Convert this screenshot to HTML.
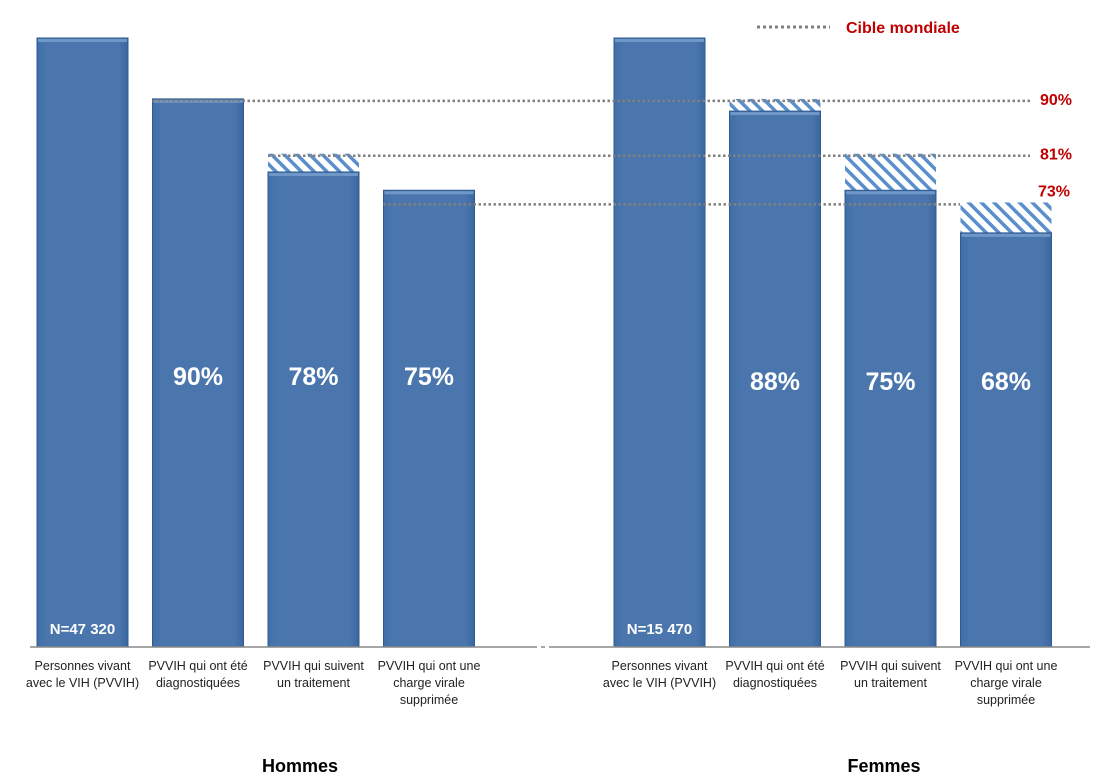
<!DOCTYPE html>
<html><head><meta charset="utf-8"><style>
body{margin:0;background:#fff;}
svg{display:block;font-family:"Liberation Sans",sans-serif;}
</style></head><body>
<svg id="c" width="1100" height="778">
<defs>
<pattern id="hatch" patternUnits="userSpaceOnUse" width="9" height="9" patternTransform="rotate(-45)">
<rect width="9" height="9" fill="#fff"/><rect width="3.5" height="9" fill="#5a8fcc"/>
</pattern>
<linearGradient id="bg" x1="0" x2="1"><stop offset="0" stop-color="#3f6ea8"/><stop offset="0.1" stop-color="#4a76ad"/><stop offset="0.9" stop-color="#4a76ad"/><stop offset="1" stop-color="#3a679f"/></linearGradient>
</defs>
</svg>
<script>
const groups=["Hommes","Femmes"];
const categories=["Personnes vivant|avec le VIH (PVVIH)","PVVIH qui ont été|diagnostiquées","PVVIH qui suivent|un traitement","PVVIH qui ont une|charge virale|supprimée"];
const menValues=[100,90,78,75];
const womenValues=[100,88,75,68];
const targets=[null,90,81,73];
const nLabels=["N=47 320","N=15 470"];
const S="http://www.w3.org/2000/svg";
const svg=document.getElementById('c');
const base=647, ppu=6.09;
const y=v=>base-v*ppu;
const gx=[37,614], step=115.5, bw=91;
function el(t,a,p){const e=document.createElementNS(S,t);for(const k in a)e.setAttribute(k,a[k]);(p||svg).appendChild(e);return e;}
const series=[menValues,womenValues];
series.forEach((vals,g)=>{
 vals.forEach((v,i)=>{
  const x=gx[g]+i*step;
  const t=targets[i];
  if(t!==null&&t>v){
   const h=el('rect',{x:x,y:y(t),width:bw,height:y(v)-y(t),fill:'url(#hatch)'});
   
   
  }
  const r=el('rect',{x:x,y:y(v),width:bw,height:base-y(v),fill:'url(#bg)',stroke:'#2f5a8f','stroke-width':1});
  
  
  el('rect',{x:x+1,y:y(v)+1,width:bw-2,height:3,fill:'#6f97c8'});
  if(i>0){
   const tx=el('text',{x:x+bw/2,y:385+(g?5:0),'text-anchor':'middle','font-size':25,'font-weight':'bold',fill:'#fff'});
   tx.textContent=v+'%';
   
   
  }else{
   const tx=el('text',{x:x+bw/2,y:634,'text-anchor':'middle','font-size':15,'font-weight':'bold',fill:'#fff'});
   tx.textContent=nLabels[g];
   
   
  }
  categories[i].split('|').forEach((ln,k)=>{
   const c=el('text',{x:x+bw/2,y:670+k*17,'text-anchor':'middle','font-size':12.5,fill:'#222'});
   c.textContent=ln;
   
   
  });
 });
});
targets.forEach((t,i)=>{
 if(t===null)return;
 const x1=gx[0]+i*step;
 const x2=(t===73)?960:1030;
 const l=el('line',{x1:x1,x2:x2,y1:y(t)+2,y2:y(t)+2,stroke:'#808080','stroke-width':2.5,'stroke-dasharray':'2.5 2.5'});
 
 
 const tx=el('text',{x:1038+(t===73?0:2),y:y(t)+(t===73?-6:6),'font-size':16,'font-weight':'bold',fill:'#c00000'});
 tx.textContent=t+'%';
 
 
});
el('line',{x1:30,x2:537,y1:base,y2:base,stroke:'#888','stroke-width':1.5});
el('line',{x1:541,x2:545,y1:base,y2:base,stroke:'#888','stroke-width':1.5});
el('line',{x1:549,x2:1090,y1:base,y2:base,stroke:'#888','stroke-width':1.5});
[300,884].forEach((x,g)=>{
 const t=el('text',{x:x,y:772,'text-anchor':'middle','font-size':18,'font-weight':'bold',fill:'#000'});
 t.textContent=groups[g];
 
 
});
const ll=el('line',{x1:757,x2:830,y1:27,y2:27,stroke:'#808080','stroke-width':3,'stroke-dasharray':'3 3'});


const lt=el('text',{x:846,y:33,'font-size':16,'font-weight':'bold',fill:'#c00000'});
lt.textContent='Cible mondiale';


</script>
</body></html>
